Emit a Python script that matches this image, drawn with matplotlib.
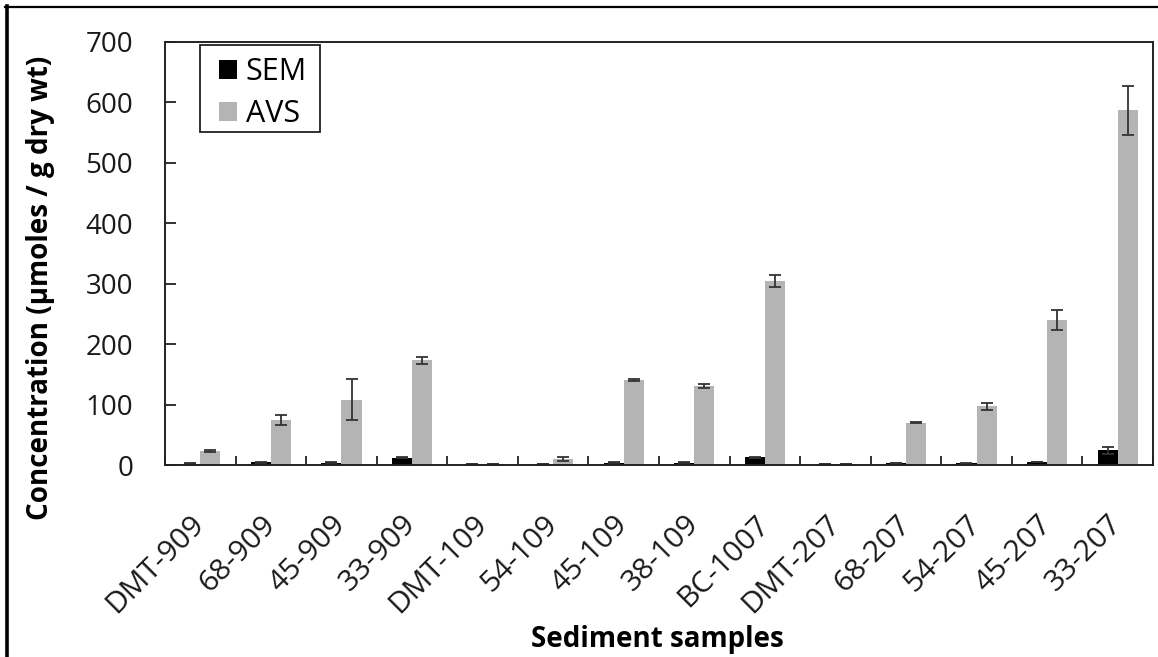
import matplotlib
matplotlib.use("Agg")
import matplotlib.pyplot as plt
import matplotlib.transforms as mtransforms
from matplotlib.lines import Line2D
from matplotlib.patches import Rectangle
import numpy as np

plt.rcParams['font.family'] = ['Open Sans', 'DejaVu Sans']

# Sample identifiers
samples = ["DMT-909", "68-909", "45-909", "33-909", "DMT-109", "54-109", "45-109",
           "38-109", "BC-1007", "DMT-207", "68-207", "54-207", "45-207", "33-207"]

# Simultaneously extracted metals (µmol/g dry wt)
sem = [2, 4.5, 4, 12, 1, 1, 4, 4, 12.5, 1, 3, 2.5, 5, 24]
sem_err = [0.5, 0.5, 0.5, 1, 0, 0, 0.5, 0.5, 1, 0, 0.5, 0.5, 0.5, 5]

# Acid volatile sulfide (µmol/g dry wt)
avs = [23, 74, 108, 173, 1, 10, 141, 131, 305, 1, 70, 97, 240, 587]
avs_err = [1, 8, 34, 6, 0, 4, 2, 3.5, 10, 0, 1, 5.5, 16, 41]

y_ticks = [0, 100, 200, 300, 400, 500, 600, 700]

W, H, DPI = 1158, 657, 100
fig = plt.figure(figsize=(W / DPI, H / DPI), dpi=DPI)
ax = fig.add_axes([165 / W, 1 - 465 / H, (1153 - 165) / W, (465 - 42) / H])

x = np.arange(len(samples))
bw = 0.286
err_kw = dict(ecolor="#333333", elinewidth=1.3, capsize=4.5, capthick=1.3)
ax.bar(x - bw / 2, sem, bw, color="black", label="SEM", yerr=sem_err,
       error_kw=err_kw, zorder=2)
ax.bar(x + bw / 2, avs, bw, color="#b4b4b4", label="AVS", yerr=avs_err,
       error_kw=err_kw, zorder=2)

ax.set_xlim(-0.5, len(samples) - 0.5)
ax.set_ylim(0, 700)
ax.set_yticks(y_ticks)
ax.set_yticklabels([str(v) for v in y_ticks], fontsize=20, color="#1a1a1a")
ax.tick_params(axis="y", direction="in", length=8, width=1.3, pad=23, color="#222222")

# category boundary ticks plus centred, rotated labels
ax.set_xticks(np.arange(len(samples) + 1) - 0.5, minor=True)
ax.set_xticks(x)
ax.tick_params(axis="x", which="minor", direction="in", length=6.5, width=1.3, color="#222222")
ax.tick_params(axis="x", which="major", length=0, pad=0)
ax.set_xticklabels(samples, rotation=45, ha="right", va="center",
                   rotation_mode="anchor", fontsize=21.5, color="#1a1a1a")
offset = mtransforms.ScaledTranslation(0 / DPI, -55 / DPI, fig.dpi_scale_trans)
for lab in ax.get_xticklabels():
    lab.set_transform(lab.get_transform() + offset)

for s in ax.spines.values():
    s.set_linewidth(1.4)
    s.set_color("#222222")

# legend entries, with a separately drawn square frame around them
leg = ax.legend(loc="upper left", bbox_to_anchor=(219 / W, 1 - 57 / H),
                bbox_transform=fig.transFigure, fontsize=22, frameon=False,
                handlelength=0.6, handleheight=0.6, handletextpad=0.27,
                borderpad=0, labelspacing=0.4, borderaxespad=0)
fig.add_artist(Rectangle((200 / W, 1 - 132 / H), 120 / W, 87 / H,
                         transform=fig.transFigure, fill=False,
                         edgecolor="#222222", linewidth=1.3))

fig.text(41 / W, 1 - 288 / H, "Concentration (µmoles / g dry wt)", rotation=90,
         ha="center", va="center", fontsize=20, fontweight="bold")
fig.text(657 / W, 1 - 640 / H, "Sediment samples", ha="center", va="center",
         fontsize=20, fontweight="bold")

# outer frame lines
fig.add_artist(Line2D([6.5 / W, 6.5 / W], [0, 1 - 6 / H], transform=fig.transFigure,
                      color="black", linewidth=2.6))
fig.add_artist(Line2D([5 / W, 1], [1 - 6.5 / H, 1 - 6.5 / H], transform=fig.transFigure,
                      color="black", linewidth=1.6))

fig.savefig("out.png", dpi=DPI)
